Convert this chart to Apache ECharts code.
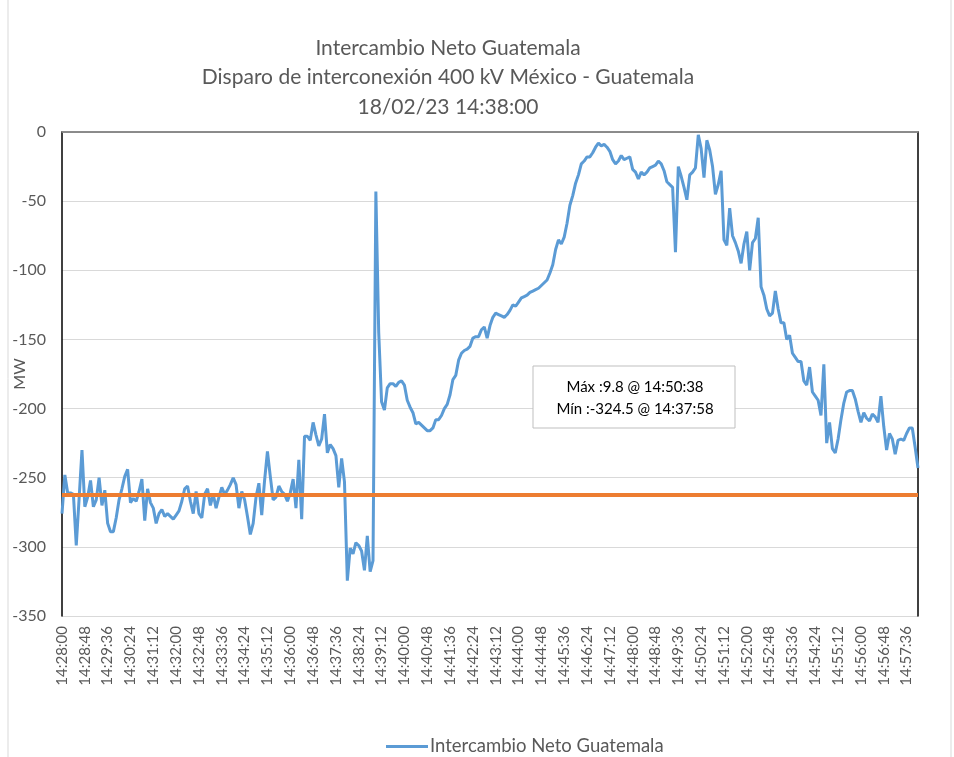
<!DOCTYPE html>
<html>
<head>
<meta charset="utf-8">
<script src="https://cdn.jsdelivr.net/npm/echarts@6/dist/echarts.min.js"></script>
<style>
  html, body { margin: 0; padding: 0; background: #fff; }
  #chart { width: 954px; height: 757px; }
</style>
</head>
<body>
<div id="chart"></div>
<script>
// Intercambio neto Guatemala, muestras cada 6 s desde 14:28:00
const startTime = '14:28:00';
const stepSeconds = 6;

const netExchange = [
  -276, -248, -261, -261, -262, -299, -265, -230, -271, -264,
  -252, -271, -266, -250, -270, -259, -283, -289, -289, -279,
  -266, -258, -249, -244, -268, -265, -267, -260, -251, -281,
  -258, -268, -272, -283, -276, -273, -278, -276, -278, -280,
  -277, -274, -267, -258, -256, -267, -276, -260, -276, -279,
  -262, -258, -270, -262, -272, -264, -257, -262, -259, -255,
  -250, -255, -272, -260, -266, -278, -291, -283, -264, -254,
  -277, -252, -231, -249, -266, -264, -256, -260, -262, -267,
  -261, -251, -272, -237, -280, -220, -220, -223, -210, -219,
  -227, -222, -204, -232, -226, -229, -234, -257, -236, -253,
  -324.5, -301, -305, -297, -299, -303, -317, -292, -318, -310,
  -43, -145, -195, -201, -185, -182, -182, -184, -181, -180,
  -183, -194, -199, -203, -211, -210, -212, -214, -216, -216,
  -214, -208, -208, -205, -200, -197, -190, -179, -176, -165,
  -160, -158, -157, -155, -149, -148, -148, -143, -141, -149,
  -140, -134, -131, -132, -133, -134, -132, -129, -125, -126,
  -123, -120, -119, -118, -116, -115, -114, -113, -111, -109,
  -107, -102, -96, -85, -78, -81, -76, -66, -53, -46,
  -37, -31, -23, -21, -18, -18, -15, -11, -8, -10,
  -9, -11, -14, -20, -23, -21, -17, -20, -19, -18,
  -27, -29, -34, -29, -31, -29, -26, -25, -24, -21,
  -23, -28, -36, -38, -40, -87, -25, -32, -40, -49,
  -31, -29, -26, -2, -12, -33, -6, -13, -25, -45,
  -38, -28, -78, -82, -55, -75, -80, -86, -95, -81,
  -72, -100, -80, -77, -62, -112, -118, -128, -133, -131,
  -115, -128, -138, -138, -150, -147, -160, -163, -166, -166,
  -180, -183, -170, -188, -191, -194, -205, -168, -225, -210,
  -229, -232, -222, -208, -196, -188, -187, -187, -193, -202,
  -210, -203, -207, -209, -204, -206, -210, -191, -213, -230,
  -218, -222, -233, -223, -222, -223, -218, -214, -214, -228,
  -243
];

const referenceLevel = -262;
const yTicks = { min: -350, max: 0, step: 50 };
const titleLines = [
  'Intercambio Neto Guatemala',
  'Disparo de interconexión 400 kV México - Guatemala',
  '18/02/23 14:38:00'
];
const noteLines = ['Máx :9.8 @ 14:50:38', 'Mín :-324.5 @ 14:37:58'];

function buildTimes() {
  const p = startTime.split(':').map(Number);
  const base = p[0] * 3600 + p[1] * 60 + p[2];
  const pad = n => String(n).padStart(2, '0');
  return netExchange.map((_, i) => {
    const s = base + i * stepSeconds;
    return pad(Math.floor(s / 3600)) + ':' + pad(Math.floor(s / 60) % 60) + ':' + pad(s % 60);
  });
}
const times = buildTimes();

const font = 'Lato, "Open Sans", sans-serif';
const grey = '#595959';

const chart = echarts.init(document.getElementById('chart'));
chart.setOption({
  animation: false,
  backgroundColor: '#fff',
  grid: { left: 62, right: 36, top: 132, bottom: 141, outerBoundsMode: 'none', containLabel: false },
  legend: {
    data: ['Intercambio Neto Guatemala'],
    left: 381,
    top: 732,
    icon: 'rect',
    itemWidth: 42,
    itemHeight: 3,
    itemGap: 10,
    textStyle: { color: grey, fontSize: 18.5, fontFamily: font, padding: [0, 0, 0, -3] }
  },
  xAxis: [{
    type: 'category',
    data: times,
    boundaryGap: false,
    axisLine: { lineStyle: { color: '#000', width: 1.5 } },
    axisTick: { show: false },
    axisLabel: {
      rotate: 90, interval: 7, margin: 10,
      color: grey, fontSize: 15, fontFamily: font
    },
    splitLine: { show: false }
  }, {
    type: 'category',
    data: times,
    position: 'top',
    boundaryGap: false,
    axisLine: { lineStyle: { color: '#a6a6a6', width: 1.5 } },
    axisTick: { show: false },
    axisLabel: { show: false }
  }],
  yAxis: [{
    type: 'value',
    min: yTicks.min,
    max: yTicks.max,
    interval: yTicks.step,
    name: 'MW',
    nameLocation: 'middle',
    nameGap: 34,
    nameMoveOverlap: false,
    nameTextStyle: { color: grey, fontSize: 16, fontFamily: font },
    axisLine: { show: true, lineStyle: { color: '#000', width: 1.5 } },
    axisTick: { show: false },
    axisLabel: { color: grey, fontSize: 16, fontFamily: font, margin: 16 },
    splitLine: { lineStyle: { color: '#d9d9d9', width: 1 } }
  }, {
    type: 'value',
    position: 'right',
    min: yTicks.min,
    max: yTicks.max,
    interval: yTicks.step,
    axisLine: { show: true, lineStyle: { color: '#000', width: 1.5 } },
    axisTick: { show: false },
    axisLabel: { show: false },
    splitLine: { show: false }
  }],
  series: [{
    name: 'Intercambio Neto Guatemala',
    type: 'line',
    data: netExchange,
    symbol: 'none',
    itemStyle: { color: '#5b9bd5' },
    lineStyle: { color: '#5b9bd5', width: 3 },
    z: 3,
    markLine: {
      silent: true,
      symbol: 'none',
      label: { show: false },
      lineStyle: { color: '#ed7d31', width: 4, type: 'solid' },
      data: [{ yAxis: referenceLevel }],
      z: 4
    }
  }],
  graphic: [
    {
      type: 'rect', silent: true, z: 0,
      shape: { x: 8, y: -2, width: 943, height: 761 },
      style: { fill: 'none', stroke: '#d9d9d9', lineWidth: 1 }
    },
    ...titleLines.map((t, k) => ({
      type: 'text', silent: true,
      style: {
        text: t, x: 448, y: 48 + k * 29.5,
        textAlign: 'center', align: 'center',
        textVerticalAlign: 'middle', verticalAlign: 'middle',
        font: '21px ' + font, fill: grey
      }
    })),
    {
      type: 'rect', silent: true, z: 10,
      shape: { x: 533, y: 366, width: 202, height: 62 },
      style: { fill: '#fff', stroke: '#bfbfbf', lineWidth: 1 }
    },
    ...noteLines.map((t, k) => ({
      type: 'text', silent: true, z: 11,
      style: {
        text: t, x: 635, y: 387 + k * 22,
        textAlign: 'center', align: 'center',
        textVerticalAlign: 'middle', verticalAlign: 'middle',
        font: '15px ' + font, fill: '#000'
      }
    }))
  ]
});
</script>
</body>
</html>
